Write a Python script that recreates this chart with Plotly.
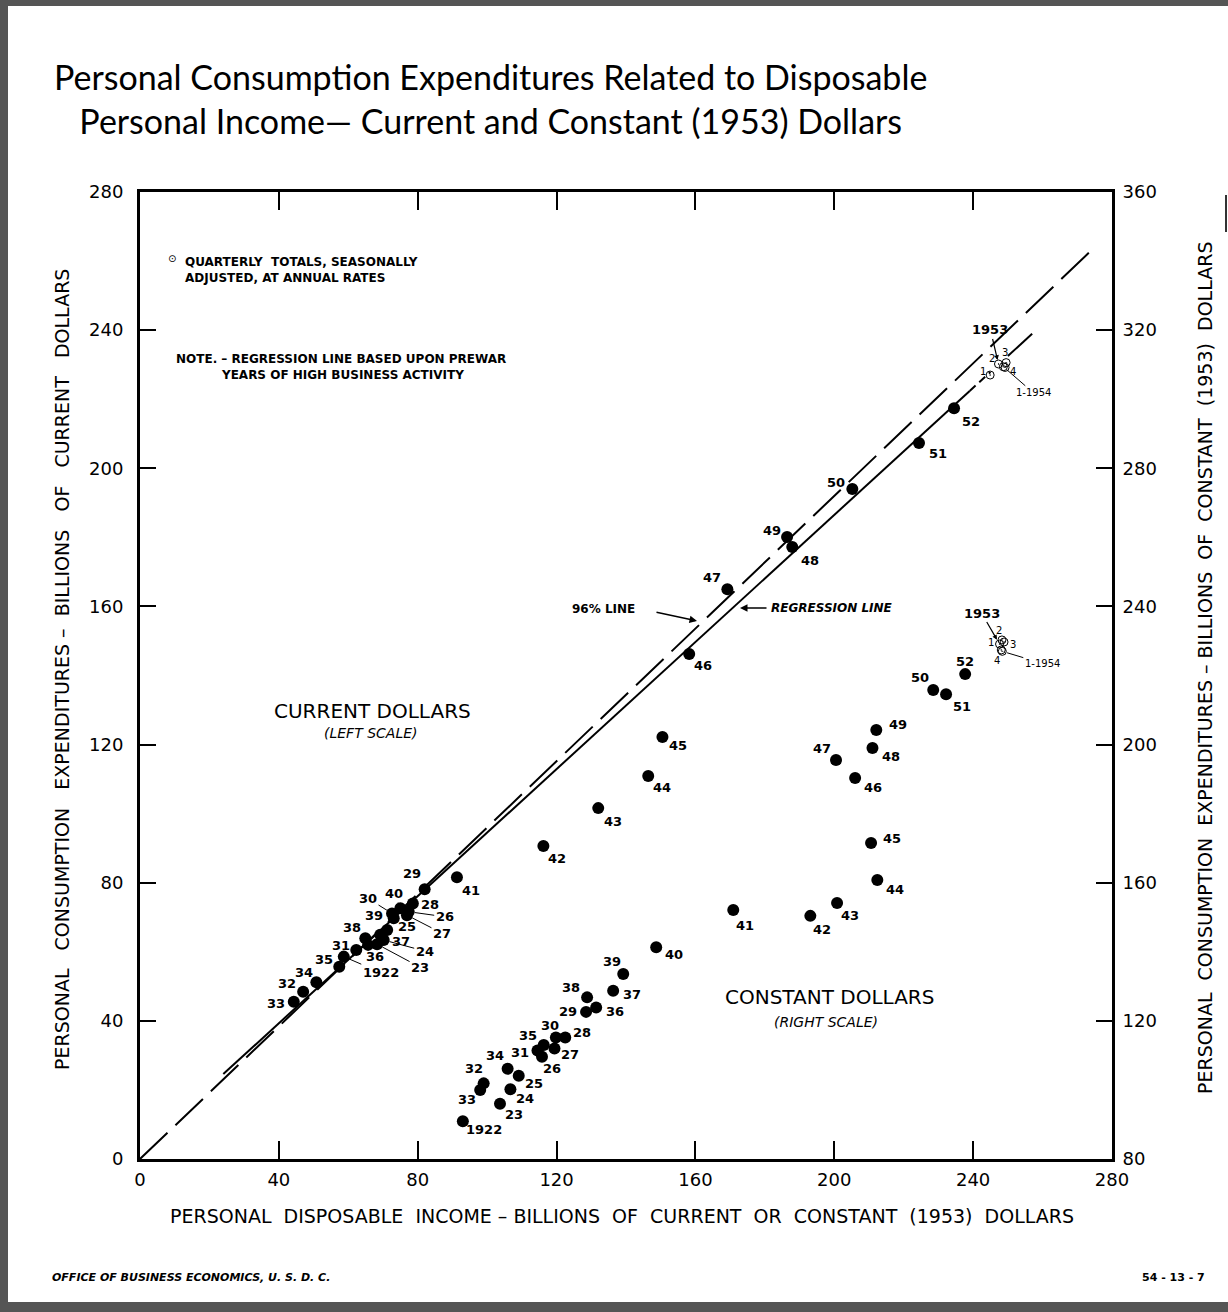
import plotly.graph_objects as go

# ---------------- DATA ----------------
years = [1922, 1923, 1924, 1925, 1926, 1927, 1928, 1929, 1930, 1931, 1932,
         1933, 1934, 1935, 1936, 1937, 1938, 1939, 1940, 1941, 1942, 1943,
         1944, 1945, 1946, 1947, 1948, 1949, 1950, 1951, 1952]

# Current dollars (left scale)
cur_income = [58.7, 68.3, 70.2, 71.2, 77.4, 76.9, 78.6, 82.0, 72.6, 62.3, 47.0,
              44.3, 50.8, 57.4, 65.7, 69.2, 64.9, 73.1, 75.0, 91.3, 116.2, 132.0,
              146.4, 150.5, 158.2, 169.2, 187.9, 186.4, 205.2, 224.4, 234.5]
cur_cons = [58.6, 62.2, 63.4, 66.3, 71.6, 70.6, 74.0, 78.1, 71.1, 60.5, 48.4,
            45.5, 51.2, 55.7, 62.0, 64.9, 63.9, 69.7, 72.6, 81.6, 90.6, 101.6,
            110.9, 122.2, 146.2, 165.0, 177.2, 180.1, 194.0, 207.3, 217.4]

# Constant (1953) dollars (right scale)
const_income = [93.0, 103.7, 106.7, 109.1, 115.8, 119.4, 122.5, 128.5, 119.8, 114.5, 99.0,
                98.0, 105.9, 116.3, 131.4, 136.3, 128.8, 139.2, 148.7, 170.9, 193.1, 200.8,
                212.4, 210.6, 206.0, 200.5, 211.0, 212.1, 228.5, 232.2, 237.7]
const_cons = [90.9, 96.0, 100.2, 104.1, 109.6, 112.0, 115.2, 122.6, 115.2, 111.4, 101.9,
              100.0, 106.1, 113.0, 123.9, 128.7, 126.8, 133.6, 141.3, 152.1, 150.4, 154.1,
              160.8, 171.5, 190.3, 195.5, 199.0, 204.2, 215.8, 214.6, 220.4]

# Quarterly totals 1953 Q1-Q4 and 1954 Q1
quarters = ["1", "2", "3", "4", "1-1954"]
q_cur_income = [244.9, 247.3, 249.5, 249.2, 248.7]
q_cur_cons = [227.0, 230.2, 230.6, 229.2, 229.4]
q_const_income = [247.6, 248.3, 248.9, 248.1, 248.4]
q_const_cons = [229.1, 230.3, 229.7, 227.4, 227.0]

# Lines
LINE_96_RATIO = 0.96
line96_extent = [0, 275]
REG_INTERCEPT = 2.5
REG_SLOPE = 0.92
reg_extent_solid = [24, 239]
reg_extent_dash = [239, 245]
reg_extent_solid2 = [250, 257]

x_ticks = [0, 40, 80, 120, 160, 200, 240, 280]
left_ticks = [0, 40, 80, 120, 160, 200, 240, 280]
right_ticks = [80, 120, 160, 200, 240, 280, 320, 360]

# ---------------- LAYOUT HELPERS ----------------
W, H = 1228, 1312
L, R, T, B = 140, 116, 192, 153
PW, PH = W - L - R, H - T - B


def px(x):
    return (x - L) / PW


def py(y):
    return 1 - (y - T) / PH


LABEL_FONT = dict(family="DejaVu Sans", size=13, color="black", weight="bold")
SMALL_FONT = dict(family="DejaVu Sans", size=10, color="black")

# label offsets in px (dx right, dy down, leader line?)
cur_off = {
    1922: (37, 16, True), 1923: (43, 23, True), 1924: (41, 11, True), 1925: (20, -4, False),
    1926: (36, 5, True), 1927: (35, 18, True), 1928: (17, 1, False), 1929: (-13, -16, False),
    1930: (-24, -15, True), 1931: (-15, -5, False), 1932: (-16, -8, False), 1933: (-18, 2, False),
    1934: (-12, -10, False), 1935: (-15, -7, False), 1936: (7, 12, False), 1937: (21, 7, False),
    1938: (-13, -11, False), 1939: (-20, -3, False), 1940: (-6, -15, True), 1941: (14, 13, False),
    1942: (14, 12, False), 1943: (15, 13, False), 1944: (14, 11, False), 1945: (16, 9, False),
    1946: (14, 11, False), 1947: (-15, -12, False), 1948: (18, 13, False), 1949: (-15, -7, False),
    1950: (-16, -7, False), 1951: (19, 10, False), 1952: (17, 13, False),
}
const_off = {
    1922: (21, 8), 1923: (14, 11), 1924: (15, 9), 1925: (15, 8), 1926: (10, 12), 1927: (16, 6),
    1928: (17, -5), 1929: (-18, 0), 1930: (-6, -12), 1931: (-17, 2), 1932: (-10, -15),
    1933: (-13, 10), 1934: (-13, -13), 1935: (-16, -10), 1936: (19, 4), 1937: (19, 4),
    1938: (-16, -10), 1939: (-11, -12), 1940: (18, 7), 1941: (12, 15), 1942: (12, 14),
    1943: (13, 12), 1944: (18, 10), 1945: (21, -5), 1946: (18, 9), 1947: (-14, -12),
    1948: (19, 8), 1949: (22, -6), 1950: (-13, -13), 1951: (16, 12), 1952: (0, -13),
}
q_cur_off = [(-7, -4), (-6, -5), (-1, -10), (8, 4)]
q_const_off = [(-9, -2), (-3, -9), (9, 2), (-4, 11)]


def ylab(y):
    return str(y) if y == years[0] else "%02d" % (y % 100)


fig = go.Figure()

# 96% line
fig.add_trace(go.Scatter(
    x=line96_extent, y=[LINE_96_RATIO * v for v in line96_extent], mode="lines",
    line=dict(color="black", width=2, dash="38px,11px"), yaxis="y", hoverinfo="skip"))
# Regression line
for ext, dash in [(reg_extent_solid, "solid"), (reg_extent_dash, "8px,5px"), (reg_extent_solid2, "solid")]:
    fig.add_trace(go.Scatter(
        x=ext, y=[REG_INTERCEPT + REG_SLOPE * v for v in ext], mode="lines",
        line=dict(color="black", width=2, dash=dash), yaxis="y", hoverinfo="skip"))

# Current dollar points
fig.add_trace(go.Scatter(x=cur_income, y=cur_cons, mode="markers", yaxis="y",
                         marker=dict(color="black", size=12)))
# Constant dollar points
fig.add_trace(go.Scatter(x=const_income, y=const_cons, mode="markers", yaxis="y2",
                         marker=dict(color="black", size=12)))
# Quarterly
fig.add_trace(go.Scatter(x=q_cur_income, y=q_cur_cons, mode="markers", yaxis="y",
                         marker=dict(symbol="circle-open-dot", color="black", size=8,
                                     line=dict(width=1, color="black"))))
fig.add_trace(go.Scatter(x=q_const_income, y=q_const_cons, mode="markers", yaxis="y2",
                         marker=dict(symbol="circle-open-dot", color="black", size=8,
                                     line=dict(width=1, color="black"))))

ann = []
for yr, xv, yv in zip(years, cur_income, cur_cons):
    dx, dy, lead = cur_off[yr]
    if lead:
        ann.append(dict(x=xv, y=yv, xref="x", yref="y", text=ylab(yr), showarrow=True,
                        arrowhead=0, arrowwidth=1, arrowcolor="black", ax=dx, ay=dy,
                        standoff=6, font=LABEL_FONT))
    else:
        ann.append(dict(x=xv, y=yv, xref="x", yref="y", text=ylab(yr), showarrow=False,
                        xshift=dx, yshift=-dy, font=LABEL_FONT))
for yr, xv, yv in zip(years, const_income, const_cons):
    dx, dy = const_off[yr]
    ann.append(dict(x=xv, y=yv, xref="x", yref="y2", text=ylab(yr), showarrow=False,
                    xshift=dx, yshift=-dy, font=LABEL_FONT))

# quarterly labels
for i in range(4):
    dx, dy = q_cur_off[i]
    ann.append(dict(x=q_cur_income[i], y=q_cur_cons[i], xref="x", yref="y", text=quarters[i],
                    showarrow=False, xshift=dx, yshift=-dy, font=SMALL_FONT))
    dx, dy = q_const_off[i]
    ann.append(dict(x=q_const_income[i], y=q_const_cons[i], xref="x", yref="y2", text=quarters[i],
                    showarrow=False, xshift=dx, yshift=-dy, font=SMALL_FONT))
ann.append(dict(x=q_cur_income[4], y=q_cur_cons[4], xref="x", yref="y", text="1-1954",
                showarrow=True, arrowhead=0, arrowwidth=1, arrowcolor="black",
                ax=30, ay=26, standoff=5, font=SMALL_FONT))
ann.append(dict(x=q_const_income[4], y=q_const_cons[4], xref="x", yref="y2", text="1-1954",
                showarrow=True, arrowhead=0, arrowwidth=1, arrowcolor="black",
                ax=40, ay=12, standoff=5, font=SMALL_FONT))
ann.append(dict(x=q_cur_income[1], y=q_cur_cons[1], xref="x", yref="y", text="1953",
                showarrow=True, arrowhead=2, arrowsize=0.8, arrowwidth=1.2, arrowcolor="black",
                ax=-8, ay=-34, standoff=4, font=LABEL_FONT))
ann.append(dict(x=q_const_income[0], y=q_const_cons[0], xref="x", yref="y2", text="1953",
                showarrow=True, arrowhead=2, arrowsize=0.8, arrowwidth=1.2, arrowcolor="black",
                ax=-18, ay=-31, standoff=5, font=LABEL_FONT))


def ptext(x, y, text, font, xanchor="center", yanchor="middle", **kw):
    return dict(x=px(x), y=py(y), xref="paper", yref="paper", text=text, showarrow=False,
                xanchor=xanchor, yanchor=yanchor, font=font, **kw)


BOLD12 = dict(family="DejaVu Sans", size=12, weight="bold", color="black")

# Line callouts
ann.append(dict(x=px(697), y=py(621), xref="paper", yref="paper", ax=-42, ay=-9,
                text="", showarrow=True, arrowhead=2, arrowsize=1, arrowwidth=1.5,
                arrowcolor="black"))
ann.append(ptext(603, 609, "96% LINE", BOLD12))
ann.append(dict(x=px(740), y=py(608), xref="paper", yref="paper", ax=28, ay=0,
                text="", showarrow=True, arrowhead=2, arrowsize=1, arrowwidth=1.5,
                arrowcolor="black"))
ann.append(ptext(769, 608, "<i>REGRESSION LINE</i>", BOLD12, xanchor="left"))

# Region labels
ann += [
    ptext(372, 711, "CURRENT DOLLARS", dict(family="DejaVu Sans", size=20, color="black")),
    ptext(371, 733, "<i>(LEFT SCALE)</i>", dict(family="DejaVu Sans", size=14, color="black")),
    ptext(829, 997, "CONSTANT DOLLARS", dict(family="DejaVu Sans", size=20, color="black")),
    ptext(826, 1022, "<i>(RIGHT SCALE)</i>", dict(family="DejaVu Sans", size=14, color="black")),
]

ann += [
    ptext(172, 258, "⊙", dict(family="DejaVu Sans", size=10, color="black")),
    ptext(183, 270, "QUARTERLY  TOTALS, SEASONALLY<br>ADJUSTED, AT ANNUAL RATES", BOLD12,
          xanchor="left", align="left"),
    ptext(174, 367, "NOTE. – REGRESSION LINE BASED UPON PREWAR<br>"
                    "           YEARS OF HIGH BUSINESS ACTIVITY", BOLD12,
          xanchor="left", align="left"),
]

# Titles
ann += [
    ptext(490, 98, "Personal Consumption Expenditures Related to Disposable<br>"
                   "Personal Income— Current and Constant (1953) Dollars",
          dict(family="Lato", size=34, color="black"), align="center"),
    ptext(622, 1216,
          "PERSONAL  DISPOSABLE  INCOME – BILLIONS  OF  CURRENT  OR  CONSTANT  (1953)  DOLLARS",
          dict(family="DejaVu Sans", size=19, color="black")),
    ptext(62, 670, "PERSONAL   CONSUMPTION   EXPENDITURES –  BILLIONS   OF   CURRENT   DOLLARS",
          dict(family="DejaVu Sans", size=19, color="black"), textangle=-90),
    ptext(1205, 668, "PERSONAL  CONSUMPTION  EXPENDITURES – BILLIONS  OF  CONSTANT  (1953)  DOLLARS",
          dict(family="DejaVu Sans", size=19, color="black"), textangle=-90),
    ptext(50, 1277, "<i>OFFICE OF BUSINESS ECONOMICS, U. S. D. C.</i>",
          dict(family="DejaVu Sans", size=11, weight="bold", color="black"), xanchor="left"),
    ptext(1207, 1277, "54 - 13 - 7",
          dict(family="DejaVu Sans", size=11, weight="bold", color="black"), xanchor="right"),
]

# decorative border
shapes = [
    dict(type="rect", xref="paper", yref="paper", x0=px(0), x1=px(W), y0=py(0), y1=py(6),
         fillcolor="#555", line=dict(width=0), layer="above"),
    dict(type="rect", xref="paper", yref="paper", x0=px(0), x1=px(8), y0=py(0), y1=py(H),
         fillcolor="#555", line=dict(width=0), layer="above"),
    dict(type="rect", xref="paper", yref="paper", x0=px(0), x1=px(W), y0=py(1302), y1=py(H),
         fillcolor="#555", line=dict(width=0), layer="above"),
    dict(type="line", xref="paper", yref="paper", x0=px(1226), x1=px(1226), y0=py(195), y1=py(232),
         line=dict(width=2, color="#333")),
]

TICK_FONT = dict(family="DejaVu Sans", size=18, color="black")
fig.update_layout(
    width=W, height=H, showlegend=False,
    font=dict(color="black"),
    paper_bgcolor="white", plot_bgcolor="white",
    margin=dict(l=L, r=R, t=T, b=B, pad=0),
    xaxis=dict(range=[0, 280], tickvals=x_ticks, ticks="inside", ticklen=18, tickwidth=2,
               tickcolor="black", showline=True, linewidth=3, linecolor="black", mirror="ticks",
               showgrid=False, zeroline=False, tickfont=TICK_FONT, ticklabelstandoff=2),
    yaxis=dict(range=[0, 280], tickvals=left_ticks, ticks="inside", ticklen=16, tickwidth=2,
               tickcolor="black", showline=True, linewidth=3, linecolor="black",
               showgrid=False, zeroline=False, tickfont=TICK_FONT, ticklabelstandoff=10),
    yaxis2=dict(range=[80, 360], tickvals=right_ticks, ticks="inside", ticklen=16, tickwidth=2,
                tickcolor="black", showline=True, linewidth=3, linecolor="black",
                overlaying="y", side="right", showgrid=False, zeroline=False,
                tickfont=TICK_FONT, ticklabelstandoff=4),
    annotations=ann, shapes=shapes,
)

fig.write_html("out.html", config={"displayModeBar": False},
               post_script="document.body.style.margin='0px';")
